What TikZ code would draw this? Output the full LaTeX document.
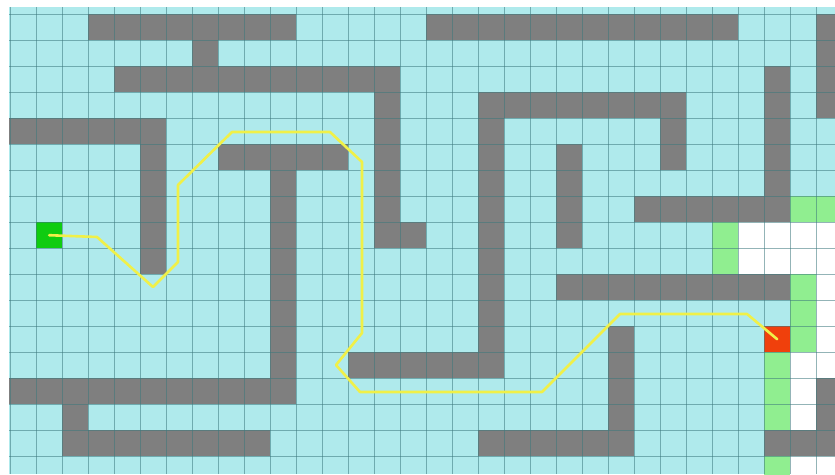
\documentclass[tikz,border=0pt]{standalone}
\definecolor{cyancell}{RGB}{175,234,236}
\definecolor{wallgray}{RGB}{127,127,127}
\definecolor{startgreen}{RGB}{16,204,16}
\definecolor{lightgreen}{RGB}{144,238,144}
\definecolor{goalred}{RGB}{240,64,12}
\definecolor{pathyellow}{RGB}{240,240,72}
\definecolor{gridcol}{RGB}{60,120,125}
\tikzset{
  wall/.style={fill=wallgray},
  visited/.style={fill=lightgreen},
  open/.style={fill=white},
  gridline/.style={draw=gridcol, line width=0.7pt, opacity=0.55},
  cellnode/.style={draw=none, inner sep=0pt, minimum width=26pt, minimum height=26pt, anchor=north west},
  route/.style={draw=pathyellow, line width=2.6pt, line join=round, line cap=round}
}
\begin{document}
\begin{tikzpicture}[x=1pt,y=-1pt]
\useasboundingbox (0,0) rectangle (835,474);
\fill[white] (0,0) rectangle (835,474);
\fill[cyancell] (9,7) rectangle (835,474);
% walls: row/first col/last col
\foreach \r/\a/\b in {0/3/10,0/16/27,0/31/31,
 1/7/7,1/31/31,
 2/4/14,2/29/29,2/31/31,
 3/14/14,3/18/25,3/29/29,3/31/31,
 4/0/5,4/14/14,4/18/18,4/25/25,4/29/29,
 5/5/5,5/8/12,5/14/14,5/18/18,5/21/21,5/25/25,5/29/29,
 6/5/5,6/10/10,6/14/14,6/18/18,6/21/21,6/29/29,
 7/5/5,7/10/10,7/14/14,7/18/18,7/21/21,7/24/29,
 8/5/5,8/10/10,8/14/15,8/18/18,8/21/21,
 9/5/5,9/10/10,9/18/18,
 10/10/10,10/18/18,10/21/29,
 11/10/10,11/18/18,
 12/10/10,12/18/18,12/23/23,
 13/10/10,13/13/18,13/23/23,
 14/0/10,14/23/23,14/31/31,
 15/2/2,15/23/23,15/31/31,
 16/2/9,16/18/23,16/29/31}
  \fill[wall] (10+26*\a,14+26*\r) rectangle (36+26*\b,40+26*\r);
\fill[wall] (9,118) rectangle (10,144);
\fill[wall] (9,378) rectangle (10,404);
% visited cells
\foreach \r/\a/\b in {7/30/31,8/27/27,9/27/27,10/30/30,11/30/30,12/30/30,13/29/29,14/29/29,15/29/29,17/29/29}
  \fill[visited] (10+26*\a,14+26*\r) rectangle (36+26*\b,40+26*\r);
% open (white) cells
\foreach \r/\a/\b in {8/28/31,9/28/31,10/31/31,11/31/31,12/31/31,13/30/31,14/30/30,15/30/30,17/30/31}
  \fill[open] (10+26*\a,14+26*\r) rectangle (36+26*\b,40+26*\r);
% start and goal
\node[cellnode, fill=startgreen] (start) at (36,222) {};
\node[cellnode, fill=goalred] (goal) at (764,326) {};
% grid
\foreach \k in {0,...,31} \draw[gridline] (10+26*\k,7) -- (10+26*\k,474);
\foreach \k in {0,...,17} \draw[gridline] (9,14+26*\k) -- (835,14+26*\k);
% route
\draw[route] (start.center) -- (97,237) -- (153,287) -- (178,262) -- (178,185)
  -- (232,132) -- (330,132) -- (362,162) -- (362,333) -- (336,365) -- (360,392)
  -- (542,392) -- (620,314) -- (747,314) -- (goal.center);
\end{tikzpicture}
\end{document}
